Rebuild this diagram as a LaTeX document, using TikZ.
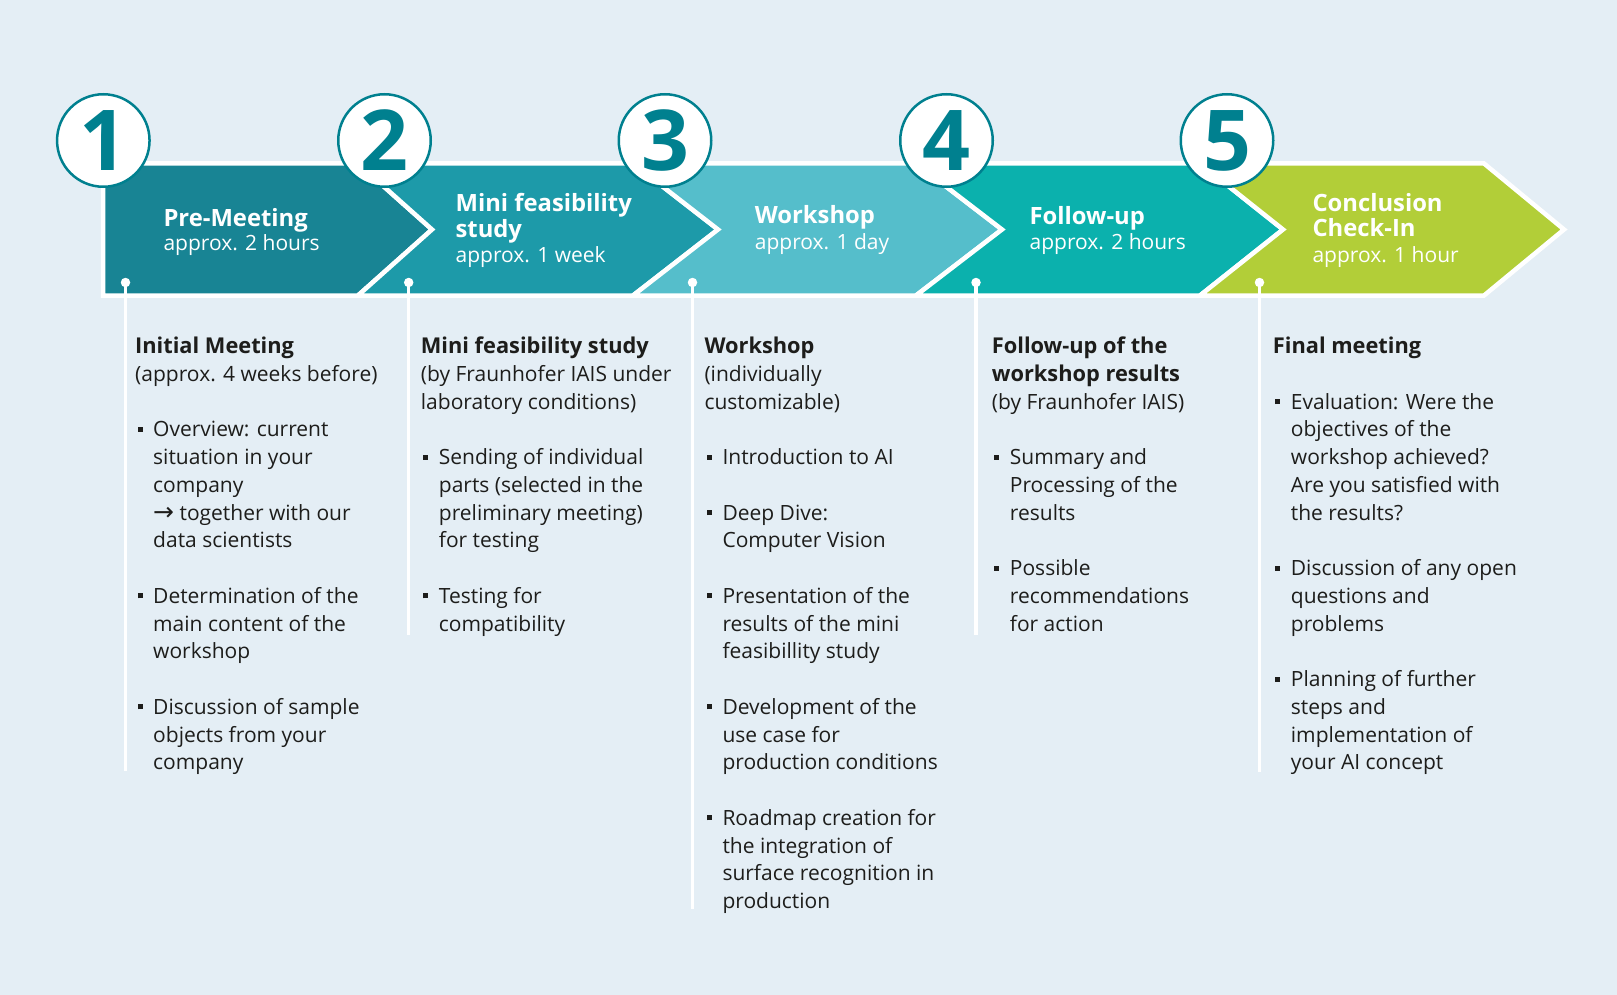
\documentclass[tikz,border=0pt]{standalone}
\usepackage{fontspec}
\setmainfont{Open Sans}
\newfontfamily\arrowfont{DejaVu Sans}
\definecolor{bgc}{HTML}{E4EEF5}
\definecolor{cA}{HTML}{188494}
\definecolor{cB}{HTML}{1D9AA9}
\definecolor{cC}{HTML}{55BECB}
\definecolor{cD}{HTML}{0BB1AD}
\definecolor{cE}{HTML}{B2CE38}
\definecolor{numcol}{HTML}{00808F}
\definecolor{txt}{HTML}{1D1D1B}
\newdimen\colgap \colgap=27.75pt
\newcommand{\bul}{\makebox[18pt][l]{\hspace{2.5pt}\rule[5pt]{5pt}{5pt}}}
\newcommand{\ind}{\hspace*{18pt}}
\newcommand{\fst}{\rule{0pt}{20pt}}
\newcommand{\hd}[1]{{\fontsize{21.8}{27.75}\selectfont\bfseries #1}}
\newcommand{\arr}{{\arrowfont\fontsize{25}{25}\selectfont\raisebox{-0.5pt}{→}}}
\begin{document}
\begin{tikzpicture}[x=1pt,y=-1pt,
  chev/.style={draw=white, line width=4.5pt, line join=miter},
  dot/.style={circle, fill=white, minimum size=9.5pt, inner sep=0pt},
  vline/.style={draw=white, line width=3.5pt},
  numc/.style={circle, draw=numcol, line width=2.5pt, fill=white, minimum size=92.5pt, inner sep=0pt, text=numcol, font=\fontsize{84}{84}\selectfont\bfseries},
  ttl/.style={anchor=base west, inner sep=0pt, text=white, font=\fontsize{23.8}{26}\selectfont\bfseries},
  sub/.style={anchor=base west, inner sep=0pt, text=white, font=\fontsize{21}{26}\selectfont},
  col/.style={anchor=north west, inner sep=0pt, align=left, text=txt, font=\fontsize{21}{27.75}\selectfont}
]
\fill[bgc] (0,0) rectangle (1617,995);
\useasboundingbox (0,0) rectangle (1617,995);

% chevrons
\filldraw[chev, fill=cA] (103,163.5) -- (358,163.5) -- (432,229.5) -- (358,295.5) -- (103,295.5) -- cycle;
\filldraw[chev, fill=cB] (358,163.5) -- (633,163.5) -- (718,229.5) -- (633,295.5) -- (358,295.5) -- (432,229.5) -- cycle;
\filldraw[chev, fill=cC] (633,163.5) -- (916,163.5) -- (1002,229.5) -- (916,295.5) -- (633,295.5) -- (718,229.5) -- cycle;
\filldraw[chev, fill=cD] (916,163.5) -- (1200,163.5) -- (1283,229.5) -- (1200,295.5) -- (916,295.5) -- (1002,229.5) -- cycle;
\filldraw[chev, fill=cE] (1200,163.5) -- (1484,163.5) -- (1564,229.5) -- (1484,295.5) -- (1200,295.5) -- (1283,229.5) -- cycle;

% timeline dots and lines
\node[dot] (d1) at (125.5,282.5) {};
\node[dot] (d2) at (408.7,282.5) {};
\node[dot] (d3) at (692.5,282.5) {};
\node[dot] (d4) at (976,282.5) {};
\node[dot] (d5) at (1259.5,282.5) {};
\coordinate (e1) at (125.5,771);
\coordinate (e2) at (408.7,635);
\coordinate (e3) at (692.5,908.5);
\coordinate (e4) at (976,635);
\coordinate (e5) at (1259.5,772);
\foreach \i in {1,...,5} { \draw[vline] (d\i.center) -- (e\i); }

% number circles
\node[numc] (n1) at (103.3,140.5) {1};
\node[numc] (n2) at (384.5,140.5) {2};
\node[numc] (n3) at (665,140.5) {3};
\node[numc] (n4) at (946.5,140.5) {4};
\node[numc] (n5) at (1227,140.5) {5};

% chevron titles
\node[ttl] (t1a) at (163.3,226.7) {Pre-Meeting};
\node[sub] (t1b) at (163.3,250.7) {approx. 2 hours};
\node[ttl] (t2a) at (455.4,211.7) {Mini feasibility};
\node[ttl] (t2b) at (455.4,237.3) {study};
\node[sub] (t2c) at (455.4,262.7) {approx. 1 week};
\node[ttl] (t3a) at (754.7,224) {Workshop};
\node[sub] (t3b) at (754.7,249.3) {approx. 1 day};
\node[ttl] (t4a) at (1029.4,225) {Follow-up};
\node[sub] (t4b) at (1029.4,250) {approx. 2 hours};
\node[ttl] (t5a) at (1312.3,211.7) {Conclusion};
\node[ttl] (t5b) at (1312.3,236.7) {Check-In};
\node[sub] (t5c) at (1312.3,262.7) {approx. 1 hour};

% columns
\node[col] (c1) at (135,333.3) {\fst\hd{Initial Meeting}\\
(approx. 4 weeks before)\\[\colgap]
\bul Overview: current\\
\ind situation in your\\
\ind company\\
\ind \arr\ together with our\\
\ind data scientists\\[\colgap]
\bul Determination of the\\
\ind main content of the\\
\ind workshop\\[\colgap]
\bul Discussion of sample\\
\ind objects from your\\
\ind company};

\node[col] (c2) at (420.7,333.3) {\fst\hd{Mini feasibility study}\\
(by Fraunhofer IAIS under\\
laboratory conditions)\\[\colgap]
\bul Sending of individual\\
\ind parts (selected in the\\
\ind preliminary meeting)\\
\ind for testing\\[\colgap]
\bul Testing for\\
\ind compatibility};

\node[col] (c3) at (704.3,333.3) {\fst\hd{Workshop}\\
(individually\\
customizable)\\[\colgap]
\bul Introduction to AI\\[\colgap]
\bul Deep Dive:\\
\ind Computer Vision\\[\colgap]
\bul Presentation of the\\
\ind results of the mini\\
\ind feasibillity study\\[\colgap]
\bul Development of the\\
\ind use case for\\
\ind production conditions\\[\colgap]
\bul Roadmap creation for\\
\ind the integration of\\
\ind surface recognition in\\
\ind production};

\node[col] (c4) at (991.7,333.3) {\fst\hd{Follow-up of the}\\
\hd{workshop results}\\
(by Fraunhofer IAIS)\\[\colgap]
\bul Summary and\\
\ind Processing of the\\
\ind results\\[\colgap]
\bul Possible\\
\ind recommendations\\
\ind for action};

\node[col] (c5) at (1272.7,333.3) {\fst\hd{Final meeting}\\[\colgap]
\bul Evaluation: Were the\\
\ind objectives of the\\
\ind workshop achieved?\\
\ind Are you satisfied with\\
\ind the results?\\[\colgap]
\bul Discussion of any open\\
\ind questions and\\
\ind problems\\[\colgap]
\bul Planning of further\\
\ind steps and\\
\ind implementation of\\
\ind your AI concept};
\end{tikzpicture}
\end{document}
